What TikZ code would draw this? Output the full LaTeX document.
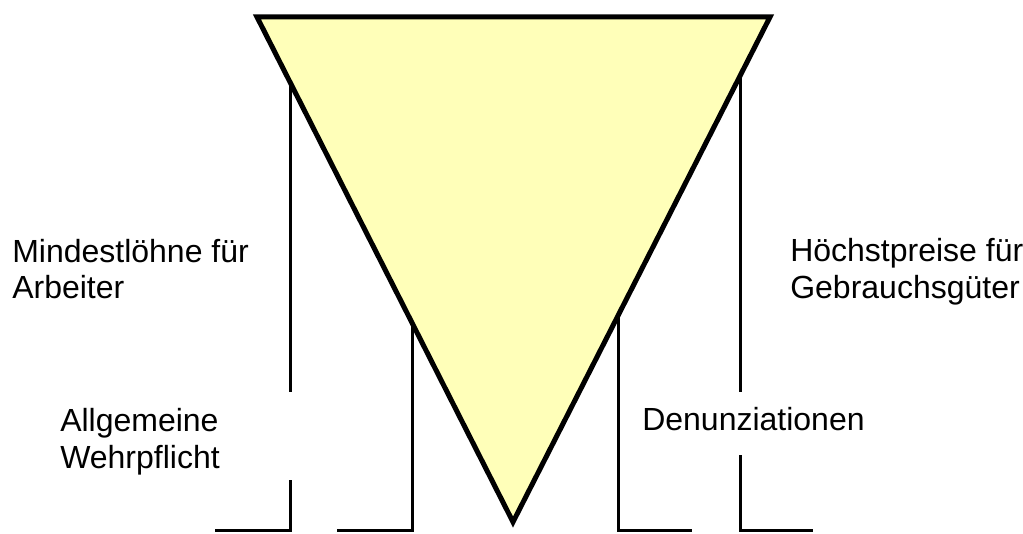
\documentclass[tikz,border=0pt]{standalone}
\usepackage{fontspec}
\setmainfont{Liberation Sans}
\usepackage{xcolor}
\usepackage{tikz}
\definecolor{funnelyellow}{RGB}{255,255,185}

\begin{document}
\begin{tikzpicture}[
  x=0.75pt, y=-0.75pt,
  txt/.style={anchor=base west, align=left, inner sep=0pt,
              font=\fontsize{24}{27.6}\selectfont},
  bracket/.style={draw=black, line width=2.25pt},
  funnel/.style={draw=black, fill=funnelyellow, line width=3.75pt},
]
\useasboundingbox (0,0) rectangle (1023,534);
% corners of the funnel
\coordinate (tl) at (257,17);
\coordinate (tr) at (770,17);
\coordinate (tip) at (513,522);
% brackets (drawn first, the funnel covers their ends)
\draw[bracket] (290,84) -- (290,392);
\draw[bracket] (290,480) -- (290,530) -- (215,530);
\draw[bracket] (412,322) -- (412,530) -- (337,530);
\draw[bracket] (618,316) -- (618,530) -- (692,530);
\draw[bracket] (740,78) -- (740,392);
\draw[bracket] (740,455) -- (740,530) -- (813,530);
\draw[funnel] (tl) -- (tr) -- (tip) -- cycle;
% texts (base = baseline of the last line)
\node[txt] (lohn) at (12,299) {Mindestlöhne für\\Arbeiter};
\node[txt] (wehr) at (60,468) {Allgemeine\\Wehrpflicht};
\node[txt] (denun) at (642,430) {Denunziationen};
\node[txt] (preis) at (790,298) {Höchstpreise für\\Gebrauchsgüter};
\end{tikzpicture}
\end{document}
